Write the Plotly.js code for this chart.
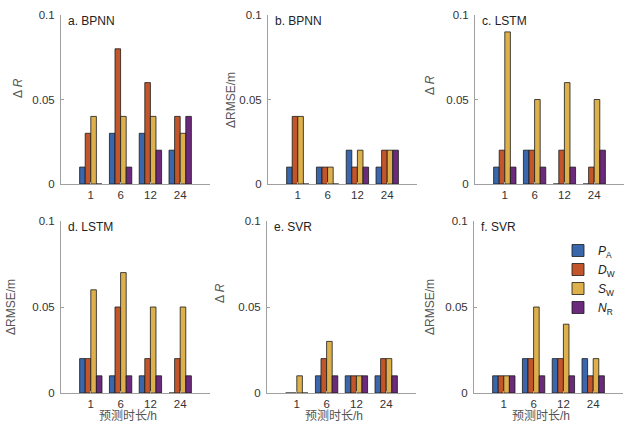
<!DOCTYPE html>
<html>
<head>
<meta charset="utf-8">
<script src="https://cdn.plot.ly/plotly-3.0.1.min.js"></script>
<style>
  html, body { margin: 0; padding: 0; background: #fff; }
  #chart { width: 635px; height: 428px; }
</style>
</head>
<body>
<div id="chart"></div>
<script>
// forecast horizons (h) and factor names
const horizons = ['1', '6', '12', '24'];
const horizonPos = [1, 2, 3, 4];
const factorNames = ['<i>P</i><sub>A</sub>', '<i>D</i><sub>W</sub>', '<i>S</i><sub>W</sub>', '<i>N</i><sub>R</sub>'];
const factorColors = ['#3a67ab', '#c3552b', '#ddb04c', '#6b2a7b'];

// each panel: rows are PA, DW, SW, NR; columns are 1, 6, 12, 24 h
const bpnnR    = [[0.01, 0.03, 0.03, 0.02], [0.03, 0.08, 0.06, 0.04], [0.04, 0.04, 0.04, 0.03], [0.00, 0.01, 0.02, 0.04]];
const bpnnRmse = [[0.01, 0.01, 0.02, 0.01], [0.04, 0.01, 0.01, 0.02], [0.04, 0.01, 0.02, 0.02], [0.00, 0.00, 0.01, 0.02]];
const lstmR    = [[0.01, 0.02, 0.00, 0.00], [0.02, 0.02, 0.02, 0.01], [0.09, 0.05, 0.06, 0.05], [0.01, 0.01, 0.01, 0.02]];
const lstmRmse = [[0.02, 0.01, 0.01, 0.00], [0.02, 0.05, 0.02, 0.02], [0.06, 0.07, 0.05, 0.05], [0.01, 0.01, 0.01, 0.01]];
const svrR     = [[0.00, 0.01, 0.01, 0.01], [0.00, 0.02, 0.01, 0.02], [0.01, 0.03, 0.01, 0.02], [0.00, 0.01, 0.01, 0.01]];
const svrRmse  = [[0.01, 0.02, 0.02, 0.02], [0.01, 0.02, 0.02, 0.01], [0.01, 0.05, 0.04, 0.02], [0.01, 0.01, 0.01, 0.01]];

const panelData = [bpnnR, bpnnRmse, lstmR, lstmRmse, svrR, svrRmse];
const panelLabels = ['a. BPNN', 'b. BPNN', 'c. LSTM', 'd. LSTM', 'e. SVR', 'f. SVR'];
const yTitles = ['Δ <i>R</i>', 'ΔRMSE/m', 'Δ <i>R</i>', 'ΔRMSE/m', 'Δ <i>R</i>', 'ΔRMSE/m'];

const W = 635, H = 428;
const font = 'Liberation Sans, Arial, Noto Sans CJK SC, sans-serif';

// axes boxes in pixels: [left, right, top, bottom]
const boxes = [
  [61, 210, 15, 184], [268, 417, 15, 184], [475, 624, 15, 184],
  [61, 210, 221, 393], [267, 416, 221, 393], [474, 623, 221, 393]
];
// y title centres (px) and x title centres
const yTitlePos = [[18, 88], [231, 100], [430, 85], [11, 307], [220, 293], [430, 307]];

const traces = [];
const layout = {
  width: W, height: H,
  margin: {l: 0, r: 0, t: 0, b: 0},
  paper_bgcolor: '#fff', plot_bgcolor: '#fff',
  font: {family: font, size: 11.5, color: '#333'},
  barmode: 'group',
  bargap: 0.25,
  bargroupgap: 0,
  showlegend: true,
  legend: {
    x: 558 / W, y: 1 - 236 / H, xanchor: 'left', yanchor: 'top',
    bgcolor: 'rgba(0,0,0,0)', font: {size: 12, color: '#222'},
    tracegroupgap: 0
  },
  annotations: [],
  shapes: []
};

panelData.forEach(function(rows, p) {
  const n = p + 1;
  const xa = 'xaxis' + (n === 1 ? '' : n);
  const ya = 'yaxis' + (n === 1 ? '' : n);
  const b = boxes[p];

  rows.forEach(function(vals, k) {
    traces.push({
      type: 'bar',
      x: horizonPos,
      y: vals,
      name: factorNames[k],
      xaxis: 'x' + n, yaxis: 'y' + n,
      marker: {color: factorColors[k], line: {color: '#1a1a1a', width: 0.8}},
      showlegend: p === 5,
      hoverinfo: 'y'
    });
  });

  layout[xa] = {
    domain: [b[0] / W, b[1] / W],
    anchor: 'y' + n,
    range: [0, 5],
    tickvals: horizonPos, ticktext: horizons,
    ticks: 'inside', ticklen: 2, tickcolor: '#a0a0a0',
    showline: true, linecolor: '#a0a0a0', linewidth: 1,
    showgrid: false, zeroline: false,
    tickfont: {size: 11.5, color: '#333'}
  };
  layout[ya] = {
    domain: [1 - b[3] / H, 1 - b[2] / H],
    anchor: 'x' + n,
    range: [0, 0.1],
    tickvals: [0, 0.05, 0.1], ticktext: ['0', '0.05', '0.1'],
    ticks: 'inside', ticklen: 3, tickcolor: '#a0a0a0',
    ticklabelstandoff: 3,
    showline: true, linecolor: '#a0a0a0', linewidth: 1,
    showgrid: false, zeroline: false,
    tickfont: {size: 11.5, color: '#333'}
  };

  // panel label
  layout.annotations.push({
    xref: 'paper', yref: 'paper',
    x: (b[0] + 5) / W, y: 1 - (b[2] + 6) / H,
    xanchor: 'left', yanchor: 'middle',
    text: panelLabels[p], showarrow: false,
    font: {size: 12, color: '#222'}
  });
  // y title
  layout.annotations.push({
    xref: 'paper', yref: 'paper',
    x: yTitlePos[p][0] / W, y: 1 - yTitlePos[p][1] / H,
    xanchor: 'center', yanchor: 'middle', textangle: -90,
    text: yTitles[p], showarrow: false,
    font: {size: 12, color: '#555'}
  });
  // x title on bottom row
  if (p >= 3) {
    layout.annotations.push({
      xref: 'paper', yref: 'paper',
      x: (b[0] + b[1] - 16) / 2 / W, y: 1 - 416 / H,
      xanchor: 'center', yanchor: 'middle',
      text: '预测时长/h', showarrow: false,
      font: {size: 12, color: '#555'}
    });
  }
});

Plotly.newPlot('chart', traces, layout, {staticPlot: true});
</script>
</body>
</html>
